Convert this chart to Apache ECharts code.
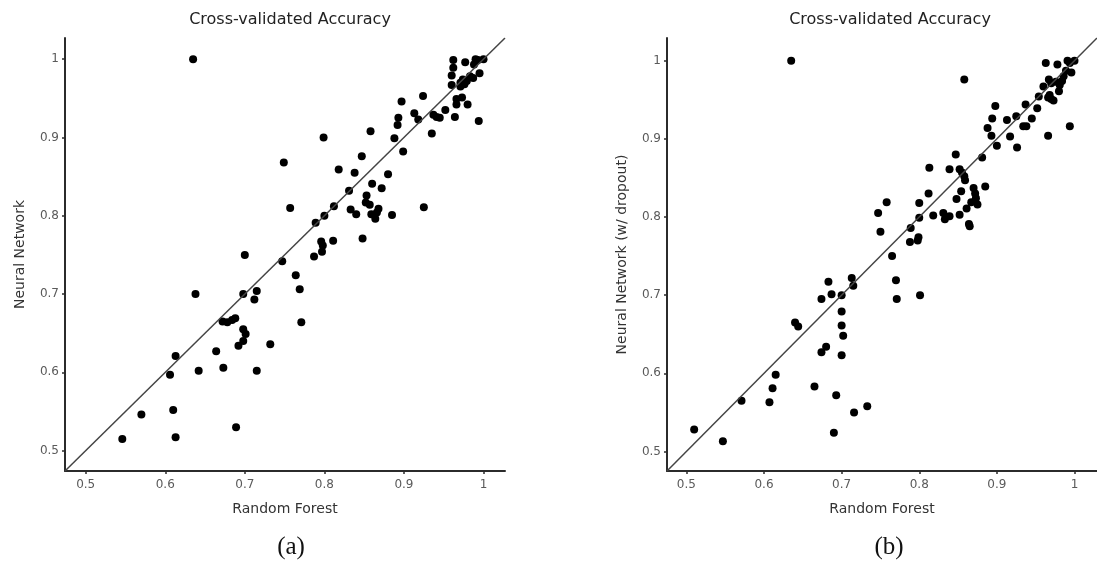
<!DOCTYPE html>
<html>
<head>
<meta charset="utf-8">
<script src="https://cdn.jsdelivr.net/npm/echarts@6/dist/echarts.min.js"></script>
<style>html,body{margin:0;padding:0;background:#fff}#c{width:1097px;height:580px}</style>
</head>
<body>
<div id="c"></div>
<script>
// ---- data ----
const titleText = 'Cross-validated Accuracy';
const xAxisTitle = 'Random Forest';
const yAxisTitleA = 'Neural Network';
const yAxisTitleB = 'Neural Network (w/ dropout)';
const panelLabels = ['(a)', '(b)'];
const tickValues = [0.5, 0.6, 0.7, 0.8, 0.9, 1];
const tickLabels = ['0.5', '0.6', '0.7', '0.8', '0.9', '1'];
const axisRangeA = [0.474, 1.027];
const axisRangeB = [0.475, 1.029];
const diagonalA = [[0.474, 0.474], [1.027, 1.027]];
const diagonalB = [[0.475, 0.475], [1.029, 1.029]];

// (Random Forest, Neural Network)
const panelA = [
  [0.635,1.0],
  [0.962,0.999],[0.962,0.989],[0.977,0.996],[0.990,1.0],[0.993,0.999],[1.0,1.0],[0.988,0.993],
  [0.960,0.979],[0.995,0.982],[0.960,0.967],[0.971,0.970],[0.974,0.974],[0.979,0.972],[0.983,0.978],
  [0.971,0.965],[0.976,0.968],[0.987,0.976],[0.966,0.949],[0.973,0.951],[0.966,0.942],[0.980,0.942],
  [0.952,0.935],[0.964,0.926],[0.994,0.921],
  [0.924,0.953],[0.937,0.929],[0.941,0.926],[0.945,0.925],[0.913,0.931],[0.918,0.923],[0.935,0.905],
  [0.897,0.946],[0.892,0.916],[0.893,0.925],[0.888,0.899],[0.899,0.882],[0.858,0.908],[0.847,0.876],
  [0.838,0.855],[0.818,0.859],[0.880,0.853],[0.799,0.900],[0.749,0.868],[0.757,0.810],[0.925,0.811],
  [0.860,0.841],[0.872,0.835],[0.831,0.832],[0.853,0.826],[0.852,0.817],[0.857,0.814],[0.859,0.802],
  [0.864,0.796],[0.868,0.809],[0.866,0.804],[0.885,0.801],[0.812,0.812],[0.800,0.800],[0.789,0.791],
  [0.833,0.808],[0.840,0.802],[0.848,0.771],[0.796,0.767],[0.798,0.762],[0.797,0.754],[0.811,0.768],
  [0.787,0.748],
  [0.747,0.742],[0.764,0.724],[0.769,0.706],[0.771,0.664],[0.732,0.636],[0.700,0.750],[0.638,0.700],
  [0.698,0.700],[0.715,0.704],[0.712,0.693],[0.672,0.665],[0.678,0.664],[0.684,0.667],[0.688,0.669],
  [0.698,0.655],[0.701,0.649],[0.698,0.640],[0.692,0.634],[0.664,0.627],[0.613,0.621],[0.606,0.597],
  [0.642,0.602],[0.673,0.606],[0.715,0.602],[0.570,0.546],[0.610,0.552],[0.689,0.530],[0.546,0.515],
  [0.613,0.517]
];

// (Random Forest, Neural Network w/ dropout)
const panelB = [
  [0.635,1.0],[0.510,0.528],[0.547,0.513],[0.571,0.565],[0.607,0.563],[0.611,0.581],[0.615,0.598],
  [0.640,0.665],[0.644,0.660],[0.665,0.583],[0.674,0.695],[0.683,0.717],[0.687,0.701],[0.674,0.627],
  [0.680,0.634],[0.700,0.700],[0.700,0.679],[0.700,0.661],[0.702,0.648],[0.700,0.623],[0.693,0.572],
  [0.690,0.524],[0.713,0.722],[0.715,0.712],[0.716,0.550],[0.733,0.558],
  [0.750,0.781],[0.765,0.750],[0.770,0.719],[0.771,0.695],[0.788,0.768],[0.798,0.770],[0.799,0.774],
  [0.801,0.700],
  [0.898,0.942],[0.894,0.926],[0.888,0.914],[0.893,0.904],[0.900,0.891],[0.913,0.924],[0.917,0.903],
  [0.847,0.880],[0.881,0.876],[0.813,0.863],[0.839,0.861],[0.852,0.861],[0.855,0.857],[0.858,0.852],
  [0.859,0.847],[0.812,0.830],[0.854,0.833],[0.848,0.823],[0.870,0.837],[0.872,0.830],[0.873,0.824],
  [0.885,0.839],[0.800,0.818],[0.758,0.819],[0.747,0.805],[0.800,0.799],[0.818,0.802],[0.831,0.805],
  [0.833,0.797],[0.839,0.801],[0.852,0.803],[0.861,0.811],[0.867,0.819],[0.875,0.816],[0.864,0.791],
  [0.865,0.788],[0.789,0.786],
  [0.858,0.976],[0.963,0.997],[0.978,0.995],[0.991,1.0],[0.994,0.997],[1.0,1.0],[0.989,0.987],
  [0.996,0.985],[0.986,0.980],[0.984,0.974],[0.967,0.976],[0.976,0.973],[0.981,0.969],[0.970,0.971],
  [0.960,0.967],[0.968,0.956],[0.970,0.951],[0.973,0.949],[0.966,0.953],[0.980,0.961],[0.954,0.954],
  [0.952,0.939],[0.937,0.944],[0.925,0.929],[0.945,0.926],[0.934,0.916],[0.938,0.916],[0.926,0.889],
  [0.966,0.904],[0.994,0.916]
];

// ---- chart ----
const FONT = 'DejaVu Sans';
const fmt = v => { const i = tickValues.findIndex(t => Math.abs(t - v) < 1e-6); return i >= 0 ? tickLabels[i] : ''; };

function valAxis(idx, range, name, isY) {
  return {
    type: 'value', gridIndex: idx, min: range[0], max: range[1],
    name: name, nameLocation: 'middle', nameGap: isY ? 38 : 31,
    nameTextStyle: { fontFamily: FONT, fontSize: 14, color: '#333' },
    axisLine: { show: true, lineStyle: { color: '#2b2b2b', width: 2 } },
    axisTick: { show: true, length: 3, customValues: tickValues, lineStyle: { color: '#2b2b2b', width: 1.5 } },
    axisLabel: { customValues: tickValues, formatter: fmt, fontFamily: FONT, fontSize: 12, color: '#5a5a5a', margin: isY ? 6 : 8 },
    splitLine: { show: false }
  };
}

const chart = echarts.init(document.getElementById('c'), null, { renderer: 'canvas' });
chart.setOption({
  backgroundColor: '#fff',
  animation: false,
  title: [
    { text: titleText, left: 285, top: 7, textAlign: 'center', textStyle: { fontFamily: FONT, fontSize: 16, fontWeight: 'normal', color: '#222' } },
    { text: titleText, left: 885, top: 7, textAlign: 'center', textStyle: { fontFamily: FONT, fontSize: 16, fontWeight: 'normal', color: '#222' } },
    { text: panelLabels[0], left: 286, top: 530, textAlign: 'center', textStyle: { fontFamily: 'Liberation Serif', fontSize: 25, fontWeight: 'normal', color: '#111' } },
    { text: panelLabels[1], left: 884, top: 530, textAlign: 'center', textStyle: { fontFamily: 'Liberation Serif', fontSize: 25, fontWeight: 'normal', color: '#111' } }
  ],
  grid: [
    { left: 65, top: 38, width: 440, height: 433 },
    { left: 667, top: 38, width: 440, height: 433 }
  ],
  xAxis: [ valAxis(0, axisRangeA, xAxisTitle, false), valAxis(1, axisRangeB, xAxisTitle, false) ],
  yAxis: [ valAxis(0, axisRangeA, yAxisTitleA, true), valAxis(1, axisRangeB, yAxisTitleB, true) ],
  series: [
    { type: 'line', xAxisIndex: 0, yAxisIndex: 0, data: diagonalA, symbol: 'none', silent: true,
      lineStyle: { color: '#444', width: 1.5 } },
    { type: 'line', xAxisIndex: 1, yAxisIndex: 1, data: diagonalB, symbol: 'none', silent: true,
      lineStyle: { color: '#444', width: 1.5 } },
    { type: 'scatter', xAxisIndex: 0, yAxisIndex: 0, data: panelA, symbolSize: 8, itemStyle: { color: '#000', opacity: 1 } },
    { type: 'scatter', xAxisIndex: 1, yAxisIndex: 1, data: panelB, symbolSize: 8, itemStyle: { color: '#000', opacity: 1 } }
  ]
});
</script>
</body>
</html>
